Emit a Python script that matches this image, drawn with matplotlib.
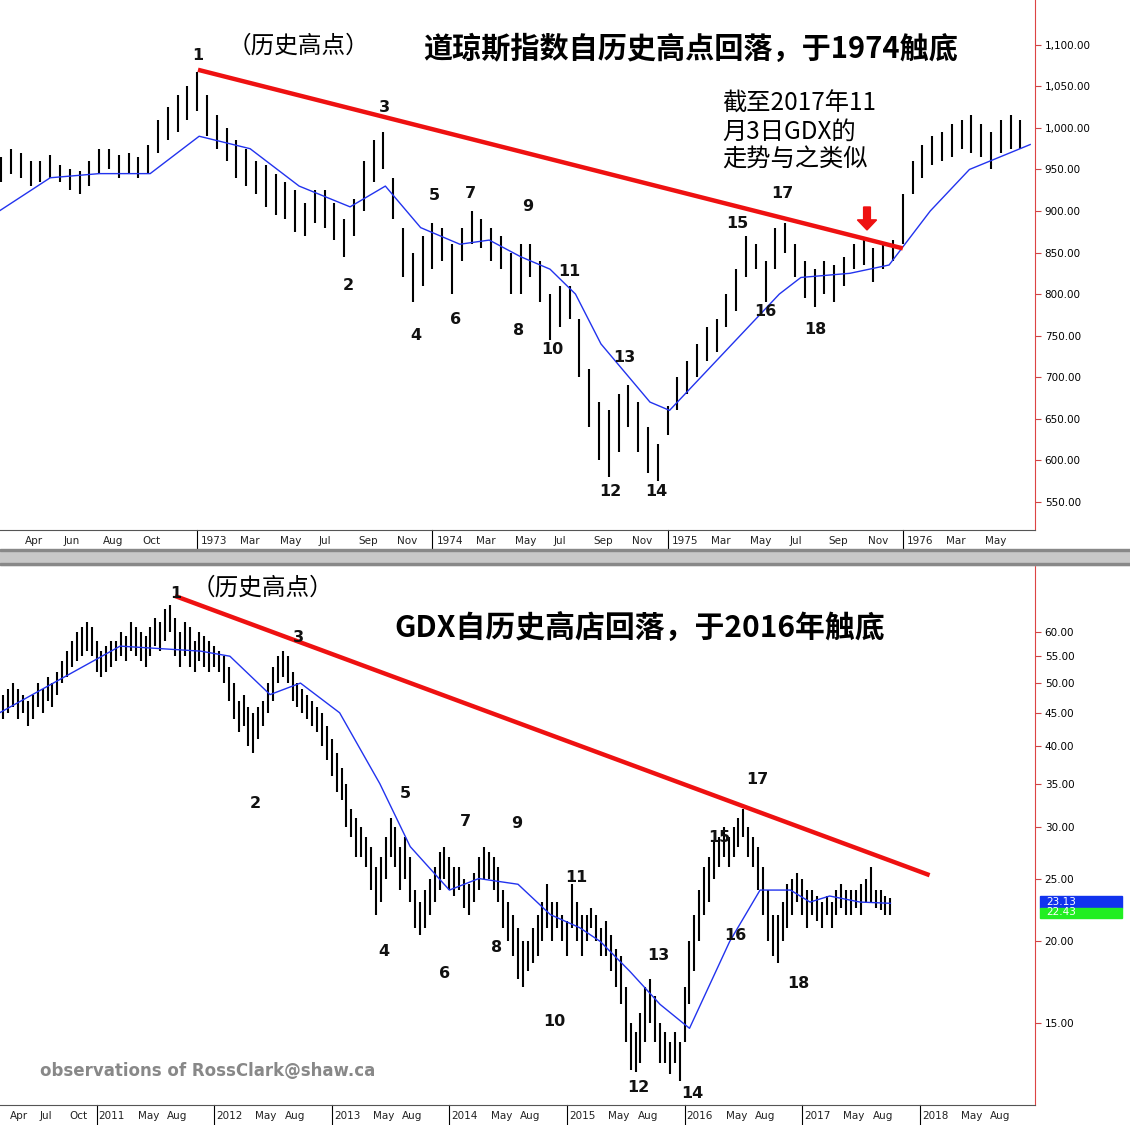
import matplotlib
matplotlib.use("Agg")
import matplotlib.pyplot as plt
import numpy as np
from matplotlib.patches import Rectangle, FancyArrow

plt.rcParams['font.family'] = ['Noto Sans CJK SC', 'DejaVu Sans']

# ---------------- DATA ----------------
# Top: Dow Jones, half-month bars, months since Jan 1972
dow_start = 2.0
dow_lo = [935,945,940,930,935,940,935,925,920,930,945,950,940,945,940,945,970,985,995,1010,1020,
          990,975,960,940,930,920,905,895,890,875,870,885,880,865,845,870,900,935,950,890,820,790,
          810,830,840,800,840,860,855,840,830,800,800,820,790,745,760,770,700,640,600,580,610,640,
          610,585,575,630,660,680,700,720,730,760,780,820,830,790,830,850,820,795,785,800,790,810,
          830,835,815,830,840,860,920,940,955,960,965,975,970,965,950,970,975,975]
dow_hi = [965,975,970,960,960,968,955,950,948,960,975,975,968,970,965,980,1010,1025,1040,1050,1067,
          1040,1015,1000,985,975,960,955,945,935,925,910,925,925,910,890,915,960,985,995,940,880,850,
          870,885,880,860,880,900,890,880,870,850,860,860,840,800,810,810,770,710,670,660,680,690,
          670,640,620,665,700,720,740,760,770,800,830,870,860,840,880,885,860,840,830,840,835,845,
          860,865,855,860,865,920,960,980,990,995,1005,1010,1015,1005,995,1010,1015,1010]
dow_ma_m = [1.9,4.5,7,9.6,12.1,14.7,17.2,19.8,21.6,23.4,25.4,26.9,28.5,30,31.3,32.6,35.1,36.1,37.7,39.7,41.7,42.8,45.3,47.3,49.4,51.4,54.5]
dow_ma_v = [900,940,945,945,990,975,930,905,930,880,860,865,845,830,800,740,670,660,700,750,800,820,825,835,900,950,980]
dow_trend_m = [12.04, 48.0]
dow_trend_v = [1070, 855]
dow_yticks = [550,600,650,700,750,800,850,900,950,1000,1050,1100]
dow_xticks = [(3,'Apr'),(5,'Jun'),(7,'Aug'),(9,'Oct'),(12,'1973'),(14,'Mar'),(16,'May'),(18,'Jul'),(20,'Sep'),(22,'Nov'),
              (24,'1974'),(26,'Mar'),(28,'May'),(30,'Jul'),(32,'Sep'),(34,'Nov'),(36,'1975'),(38,'Mar'),(40,'May'),
              (42,'Jul'),(44,'Sep'),(46,'Nov'),(48,'1976'),(50,'Mar'),(52,'May')]

# Bottom: GDX, half-month bars, months since Jan 2010
gdx_start = 2.5
gdx_lo = [44,45,46,44,45,43,44,46,45,47,46,48,50,51,53,54,55,56,55,52,51,52,53,54,55,54,56,55,54,53,55,57,56,58,60,
          55,53,55,53,52,54,53,52,53,52,50,47,44,42,43,40,39,41,43,45,47,50,51,50,47,46,45,44,43,42,40,38,36,34,33,30,
          29,27,27,26,24,22,23,25,27,26,24,25,23,21,20.5,21,22,23,24,25,24,23.5,24,22.5,22,23,24,25,25,24,23,21,20,19,
          17.5,17,18,18.5,19,20,21,20,21,20,
          19,21,20,19,20,21,20,19,19,18,17,16,14,12.7,12.6,13,14,15,14,13,13,12.5,13,12.2,14,16,18,20,22,23,25,26,27,26,
          27,28,29,27,26,24,22,20,19,18.5,20,21,22,23,22,21,22,21.5,21,22,21,22,22.5,22,22,22.5,22,23,23,22.5,22.4,22,22]
gdx_hi = [48,49,50,49,48,47,48,50,49,51,50,52,54,56,58,60,61,62,61,58,56,57,58,58,60,59,62,61,60,59,61,63,62,65,66,
          63,60,62,61,58,60,59,58,57,56,55,53,50,47,48,46,45,46,47,50,53,55,56,55,52,50,49,48,47,46,45,43,41,39,37,35,
          32,31,30,29,28,26,27,29,31,30,28,29,27,24,23,24,25,26,27.5,28,27,26,26,25,24.5,25.5,27,28,27.5,27,26,24,23,22,
          21,20,20,21,22,23,24.5,23,23,22,
          21.5,24.5,23,22,22,22.5,22,21,21.5,20.5,19.5,19,17,15,14.5,15.5,17,17.5,16.5,15,14.5,14,14.5,14,17,20,22,24,26,27,28.5,29,30,29,
          30,31,32,30,29,28,26,24,22,22,23,24.5,25,25.5,25,24,24,23.5,23,23.5,23,24,24.5,24,24,24,24.5,25,26,24,24,23.5,23.3]
gdx_ma_m = [2.1,14.4,22.6,25.6,29.7,32.8,36.8,40.9,44,48,51,55,58.3,61.3,63.4,66.4,69.5,72.5,76.6,79.7,82.8,84.8,86.8,89.9,93]
gdx_ma_v = [45,57,56,55,48,50,45,35,28,24,25,24.5,22,21,20,18,16,14.7,20,24,24,23,23.5,23,22.9]
gdx_trend_m = [20, 97]
gdx_trend_v = [68.1, 25.3]
gdx_yticks = [15,20,25,30,35,40,45,50,55,60]
gdx_xticks = [(3,'Apr'),(6,'Jul'),(9,'Oct'),(12,'2011'),(16,'May'),(19,'Aug'),(24,'2012'),(28,'May'),(31,'Aug'),
              (36,'2013'),(40,'May'),(43,'Aug'),(48,'2014'),(52,'May'),(55,'Aug'),(60,'2015'),(64,'May'),(67,'Aug'),
              (72,'2016'),(76,'May'),(79,'Aug'),(84,'2017'),(88,'May'),(91,'Aug'),(96,'2018'),(100,'May'),(103,'Aug')]
gdx_last = [23.13, 22.43]

# ---------------- FIGURE ----------------
W, H = 1130, 1125
fig = plt.figure(figsize=(W/100, H/100), dpi=100)

def fx(px): return px / W
def fy(py): return 1 - py / H

def draw_panel(ax, start, lo, hi, ma_m, ma_v, tr_m, tr_v, xticks, yticks, fmt):
    x = start + 0.5 * np.arange(len(lo))
    ax.vlines(x, lo, hi, color='black', lw=1.5)
    ax.plot(ma_m, ma_v, color='#2233ee', lw=1.0)
    ax.plot(tr_m, tr_v, color='#ee1111', lw=3.2, solid_capstyle='butt')
    ax.yaxis.tick_right()
    ax.set_yticks(yticks)
    ax.set_yticklabels([fmt(v) for v in yticks], fontsize=7.5, family='DejaVu Sans')
    ax.yaxis.set_minor_locator(matplotlib.ticker.NullLocator())
    ax.tick_params(axis='y', length=4, color='#cc4444', pad=3)
    ax.set_xticks([m for m, _ in xticks])
    ax.set_xticklabels([])
    ax.tick_params(axis='x', length=0)
    for m, lab in xticks:
        ax.text(m + 0.2, -0.012, lab, transform=ax.get_xaxis_transform(), ha='left', va='top',
                fontsize=7.5, family='DejaVu Sans', color='#222222')
        if lab.isdigit():
            ax.axvline(m, ymin=-0.035, ymax=0, color='black', lw=0.8, clip_on=False)
    for s in ['top', 'left']:
        ax.spines[s].set_visible(False)
    ax.spines['right'].set_color('#dd4444')
    ax.spines['bottom'].set_color('#555555')

ax1 = fig.add_axes([0, fy(530), fx(1035), fy(0) - fy(530)])
ax1.set_xlim((0 + 38) / 19.6, (1035 + 38) / 19.6)
ax1.set_ylim(516, 1154)
draw_panel(ax1, dow_start, dow_lo, dow_hi, dow_ma_m, dow_ma_v, dow_trend_m, dow_trend_v,
           dow_xticks, dow_yticks, lambda v: f"{v:,.2f}")

ax2 = fig.add_axes([0, fy(1105), fx(1035), fy(565) - fy(1105)])
ax2.set_yscale('log')
ax2.set_xlim((0 + 21) / 9.8, (1035 + 21) / 9.8)
ax2.set_ylim(11.2, 76.0)
draw_panel(ax2, gdx_start, gdx_lo, gdx_hi, gdx_ma_m, gdx_ma_v, gdx_trend_m, gdx_trend_v,
           gdx_xticks, gdx_yticks, lambda v: f"{v:.2f}")

# separator band
fig.patches.append(Rectangle((0, fy(565)), 1, fy(550) - fy(565), transform=fig.transFigure,
                             color='#c8c8c8', zorder=0))
fig.patches.append(Rectangle((0, fy(551)), 1, 0.0015, transform=fig.transFigure, color='#888888'))
fig.patches.append(Rectangle((0, fy(565)), 1, 0.0015, transform=fig.transFigure, color='#888888'))

# wave labels
top_labels = [('1',198,55),('2',348,286),('3',384,107),('4',416,336),('5',434,195),('6',456,319),('7',470,193),
              ('8',519,331),('9',528,207),('10',552,350),('11',569,271),('12',610,492),('13',624,357),('14',656,492),
              ('15',737,223),('16',765,311),('17',782,194),('18',815,330)]
bot_labels = [('1',176,593),('2',255,803),('3',298,637),('4',384,951),('5',405,793),('6',445,973),('7',465,822),
              ('8',497,947),('9',517,823),('10',554,1021),('11',576,877),('12',638,1088),('13',658,955),('14',692,1094),
              ('15',719,838),('16',735,935),('17',757,780),('18',798,983)]
for t, px, py in top_labels + bot_labels:
    fig.text(fx(px), fy(py), t, ha='center', va='center', fontsize=11.5, fontweight='bold',
             family='DejaVu Sans', color='#111111')

fig.text(fx(298), fy(46), '（历史高点）', ha='center', va='center', fontsize=17)
fig.text(fx(691), fy(49), '道琼斯指数自历史高点回落，于1974触底', ha='center', va='center', fontsize=21, fontweight='bold')
fig.text(fx(722), fy(132), '截至2017年11\n月3日GDX的\n走势与之类似', ha='left', va='center', fontsize=17.5, linespacing=1.1)
fig.text(fx(262), fy(588), '（历史高点）', ha='center', va='center', fontsize=17)
fig.text(fx(640), fy(628), 'GDX自历史高店回落，于2016年触底', ha='center', va='center', fontsize=21.5, fontweight='bold')
fig.text(fx(40), fy(1071), 'observations of RossClark@shaw.ca', ha='left', va='center', fontsize=12,
         fontweight='bold', color='#888888', family='DejaVu Sans')

# red arrow
fig.patches.append(FancyArrow(fx(867), fy(207), 0, -(fy(207) - fy(230)), width=0.006, head_width=0.017,
                              head_length=0.009, length_includes_head=True, color='#ee1111', transform=fig.transFigure))

# last value boxes
fig.patches.append(Rectangle((fx(1040), fy(908)), fx(82), fy(896) - fy(908), transform=fig.transFigure, color='#1133ee'))
fig.patches.append(Rectangle((fx(1040), fy(918)), fx(82), fy(908) - fy(918), transform=fig.transFigure, color='#22ee22'))
fig.text(fx(1046), fy(902), f"{gdx_last[0]:.2f}", fontsize=7.5, color='white', va='center', family='DejaVu Sans')
fig.text(fx(1046), fy(912), f"{gdx_last[1]:.2f}", fontsize=7.5, color='white', va='center', family='DejaVu Sans')

fig.savefig('out.png', dpi=100, facecolor='white')
